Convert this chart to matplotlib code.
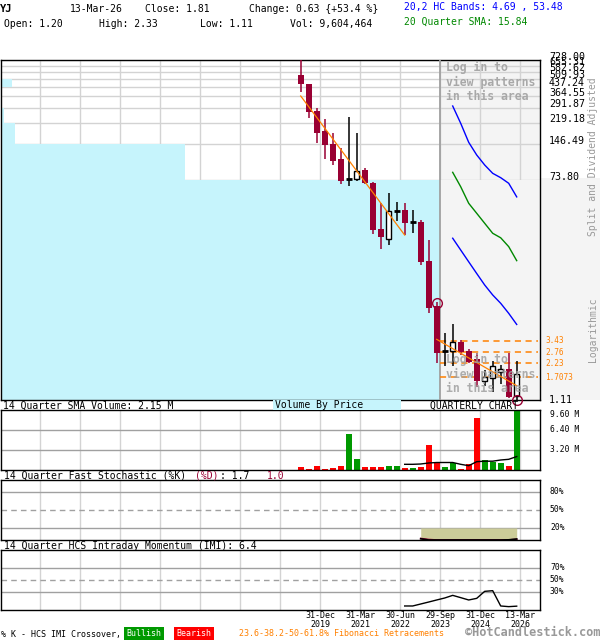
import matplotlib
matplotlib.use('Agg')
import matplotlib.pyplot as plt
import matplotlib.transforms as mtransforms
from matplotlib.patches import Rectangle, Ellipse
from matplotlib.ticker import NullLocator

plt.rcParams['font.family'] = ['DejaVu Sans Mono']

# quarterly OHLC, Q2 2019 .. Q1 2026
opens = [546.8, 460.6, 275.2, 187.9, 146.6, 110.2, 74.8, 74.8, 89.3, 70.1,
         29.0, 23.8, 41.1, 41.6, 32.9, 33.3, 15.7, 6.67, 2.84, 2.84,
         3.34, 2.83, 2.43, 1.60, 1.70, 1.90, 2.00, 1.20]
highs = [728.0, 462.0, 289.7, 236.3, 179.8, 135.1, 246.9, 181.9, 92.2, 71.0,
         47.3, 57.9, 48.8, 47.3, 41.6, 34.4, 23.5, 7.24, 4.01, 4.70,
         3.49, 2.94, 2.70, 1.97, 2.34, 2.16, 2.70, 2.33]
lows = [397.7, 242.1, 150.3, 109.5, 98.2, 68.4, 65.8, 72.8, 68.4, 26.3,
        19.8, 21.5, 33.9, 25.8, 26.7, 14.6, 5.80, 2.26, 2.12, 2.12,
        2.62, 2.25, 1.43, 1.46, 1.30, 1.51, 1.15, 1.11]
closes = [458.0, 271.6, 181.9, 144.7, 106.6, 72.8, 74.8, 87.6, 69.3, 28.4,
          25.0, 40.6, 41.1, 32.7, 32.9, 15.5, 6.38, 2.74, 2.84, 3.34,
          2.77, 2.30, 1.60, 1.71, 2.11, 2.00, 1.18, 1.81]
# volume in millions
volumes = [0.48, 0.16, 0.64, 0.16, 0.32, 0.64, 5.76, 1.76, 0.48, 0.48,
           0.48, 0.64, 0.64, 0.32, 0.32, 0.48, 4.05, 1.17, 0.48, 1.17,
           0.16, 0.91, 8.30, 1.60, 1.33, 1.12, 0.64, 9.604464]
vol_sma_start = 13
vol_sma = [0.91, 0.91, 0.96, 1.12, 1.20, 1.20, 1.20, 0.91, 0.69, 1.33,
           1.41, 1.41, 1.60, 1.71, 2.15]

# HC bands and 20 quarter SMA (last 9 quarters)
band_start = 19
band_upper = [302.7, 217.6, 151.4, 118.9, 98.2, 83.8, 77.1, 69.3, 53.48]
band_sma = [85.4, 64.9, 47.3, 39.1, 32.3, 26.7, 24.5, 20.7, 15.84]
band_lower = [24.3, 19.4, 15.5, 12.4, 9.95, 8.23, 7.02, 5.80, 4.69]

# trend lines (start idx, start price, end idx, end price)
trend1 = (0, 366.3, 13, 25.8)
trend2 = (17, 3.53, 27, 1.458)

fib_levels = [3.43, 2.76, 2.23, 1.7073]
fib_labels = ['3.43', '2.76', '2.23', '1.7073']

# price axis levels, volume by price per band (millions)
price_levels = [728.00, 655.31, 582.62, 509.93, 437.24, 364.55, 291.87,
                219.18, 146.49, 73.80, 1.11]
vbp = [0.12, 0.0, 0.0, 0.9, 0.0, 0.0, 0.22, 1.15, 15.2, 36.2]  # top band first

stoch_start = 15
stoch_k = [2.0, 0.0, 0.0, 0.0, 0.0, 0.0, 0.0, 0.0, 0.0, 0.0, 0.0, 0.3, 1.7]
stoch_d = [2.5, 0.8, 0.0, 0.0, 0.0, 0.0, 0.0, 0.0, 0.0, 0.0, 0.0, 0.1, 1.0]

imi_start = 13
imi = [6.7, 6.7, 10.0, 13.3, 16.7, 20.0, 24.4, 20.6, 16.7, 19.4,
       31.1, 32.2, 6.7, 5.6, 6.4]

date_labels = ['31-Dec\n2019', '31-Mar\n2021', '30-Jun\n2022',
               '29-Sep\n2023', '31-Dec\n2024', '13-Mar\n2026']

RED = '#990033'
CYAN = '#C6F4FC'
GREY_BG = '#F4F4F4'
GRID = '#D3D3D3'
ORANGE = '#FF8000'

W, H = 600, 640
fig = plt.figure(figsize=(6, 6.4), dpi=100)

def fx(x):
    return x / W

def fy(y):
    return 1 - y / H

def idx(px):
    # pixel column -> quarter index (idx 0 sits at 300.7 px, 8 px per quarter)
    return (px - 300.7) / 8

XMIN, XMAX = idx(1), idx(540)
grid_x = [idx(40 * k) for k in range(1, 14)]

def panel(top, bottom):
    ax = fig.add_axes([fx(1), fy(bottom), 539 / W, (bottom - top) / H])
    ax.set_xlim(XMIN, XMAX)
    ax.set_xticks([])
    ax.set_yticks([])
    for s in ax.spines.values():
        s.set_color('black')
        s.set_linewidth(1)
    return ax

# ---------------- main price panel ----------------
ax = panel(60, 400)
ax.set_yscale('log')
ax.set_ylim(1.11, 728)
ax.yaxis.set_minor_locator(NullLocator())
ax.set_yticks([])

ax.axvspan(idx(440), XMAX, color=GREY_BG, zorder=0, lw=0)
for p in price_levels[:-1]:
    ax.axhline(p, color=GRID, lw=1, zorder=1)
for g in grid_x:
    ax.axvline(g, color=GRID, lw=1, zorder=1)

# volume by price
tops = price_levels[:-1]
bottoms = price_levels[1:]
scale = (idx(440) - XMIN) / max(vbp)
ax.barh(bottoms, [v * scale for v in vbp],
        height=[t - b for t, b in zip(tops, bottoms)],
        left=XMIN, align='edge', color=CYAN, lw=0, zorder=2)
ax.add_patch(Rectangle((idx(440), 1.11), XMAX - idx(440), 73.8 - 1.11,
                       color=GREY_BG, lw=0, zorder=2.5))
ax.axvline(idx(440), color='#A0A0A0', lw=1.3, zorder=3)

# bands
bx = list(range(band_start, band_start + len(band_sma)))
ax.plot(bx, band_upper, color='#0000FF', lw=1, zorder=3)
ax.plot(bx, band_lower, color='#0000FF', lw=1, zorder=3)
ax.plot(bx, band_sma, color='#008800', lw=1, zorder=3)

# fibonacci levels
for lv, lb in zip(fib_levels, fib_labels):
    ax.hlines(lv, 17.4, XMAX - 0.2, color=ORANGE, lw=1.1,
              linestyles=(0, (4, 3)), zorder=3)

# trend lines
for t in (trend1, trend2):
    ax.plot([t[0], t[2]], [t[1], t[3]], color=ORANGE, lw=0.9, zorder=6)

# candles
for i in range(len(closes)):
    o, h, l, c = opens[i], highs[i], lows[i], closes[i]
    if c < o:
        ax.vlines(i, l, h, color=RED, lw=1.1, zorder=4)
        ax.bar(i, o - c, bottom=c, width=0.75, color=RED, lw=0, zorder=5)
    elif c > o:
        ax.vlines(i, l, h, color='black', lw=1.1, zorder=4)
        ax.bar(i, c - o, bottom=o, width=0.62, facecolor='white',
               edgecolor='black', lw=1, zorder=5)
    else:
        ax.vlines(i, l, h, color='black', lw=1.1, zorder=4)
        ax.hlines(c, i - 0.4, i + 0.4, color='black', lw=2, zorder=5)

for ci, cp in ((17, 7.02), (27, 1.11)):
    ax.plot(ci, cp, marker='o', ms=7, mfc='none', mec=RED, mew=1,
            zorder=7, clip_on=False)

# price labels on the right
tr = mtransforms.blended_transform_factory(fig.transFigure, ax.transData)
tr_up = mtransforms.offset_copy(tr, fig=fig, y=2.5, units='points')
for p in price_levels:
    ax.text(fx(549), p, f'{p:.2f}', transform=tr_up if p > 2 else tr,
            va='center', ha='left', fontsize=7.2, clip_on=False)
for lv, lb in zip(fib_levels, fib_labels):
    ax.text(fx(545), lv, lb, transform=tr, va='center', ha='left',
            fontsize=5.6, color=ORANGE, clip_on=False)

fig.add_artist(Rectangle((fx(541), fy(400)), 59 / W, 222 / H,
                         transform=fig.transFigure, color=GREY_BG, lw=0,
                         zorder=-1))
fig.text(fx(593), fy(157), 'Split and Dividend Adjusted', rotation=90,
         ha='center', va='center', fontsize=7, color='#999999')
fig.text(fx(593), fy(330), 'Logarithmic', rotation=90,
         ha='center', va='center', fontsize=7, color='#999999')

for k, line in enumerate(['Log in to', 'view patterns', 'in this area']):
    fig.text(fx(446), fy(67 + 15 * k), line, fontsize=8.3, weight='bold',
             color='#A8A8A8', va='center')
    fig.text(fx(446), fy(359 + 15 * k), line, fontsize=8.3, weight='bold',
             color='#A0A0A0', va='center', alpha=0.85, zorder=10)

# ---------------- volume panel ----------------
axv = panel(410, 470)
axv.set_ylim(0, 9.6)
for g in grid_x:
    axv.axvline(g, color=GRID, lw=1, zorder=1)
for v in (3.2, 6.4):
    axv.axhline(v, color='#A0A0A0', lw=1, zorder=1)
vcol = ['#009900' if c >= o else '#FF0000' for o, c in zip(opens, closes)]
axv.bar(range(len(volumes)), volumes, width=0.75, color=vcol, lw=0, zorder=2)
axv.plot(range(vol_sma_start, vol_sma_start + len(vol_sma)), vol_sma,
         color='black', lw=1, zorder=3)
trv = mtransforms.blended_transform_factory(fig.transFigure, axv.transData)
for v in (3.2, 6.4, 9.6):
    axv.text(fx(550), v, f'{v:.2f} M', transform=trv, va='top' if v > 9 else 'center',
             fontsize=5.8, clip_on=False)

fig.add_artist(Rectangle((fx(273), fy(410)), 128 / W, 10 / H,
                         transform=fig.transFigure, color=CYAN, lw=0))
fig.text(fx(3), fy(405.5), '14 Quarter SMA Volume: 2.15 M', fontsize=7, va='center')
fig.text(fx(275), fy(405.5), 'Volume By Price', fontsize=7, va='center')
fig.text(fx(430), fy(405.5), 'QUARTERLY CHART', fontsize=7, va='center')

# ---------------- stochastic panel ----------------
axs = panel(480, 540)
axs.set_ylim(0, 100)
for g in grid_x:
    axs.axvline(g, color=GRID, lw=1, zorder=1)
axs.axhline(80, color='#A0A0A0', lw=1, zorder=1)
axs.axhline(20, color='#A0A0A0', lw=1, zorder=1)
axs.axhline(50, color='#A0A0A0', lw=1, ls=(0, (4, 3)), zorder=1)
sx = list(range(stoch_start, stoch_start + len(stoch_k)))
axs.fill_between(sx, stoch_k, 20, color='#CCCC99', lw=0, zorder=2)
axs.plot(sx, stoch_d, color=RED, lw=1.2, zorder=3)
axs.plot(sx, stoch_k, color='black', lw=1.2, zorder=3)
trs = mtransforms.blended_transform_factory(fig.transFigure, axs.transData)
for v in (80, 50, 20):
    axs.text(fx(550), v, f'{v}%', transform=trs, va='center', fontsize=5.8,
             clip_on=False)

fig.text(fx(4), fy(476), '14 Quarter Fast Stochastic (%K)', fontsize=7, va='center')
fig.text(fx(195), fy(476), '(%D)', fontsize=7, va='center', color=RED)
fig.text(fx(220), fy(476), ': 1.7', fontsize=7, va='center')
fig.text(fx(267), fy(476), '1.0', fontsize=7, va='center', color=RED)

# ---------------- IMI panel ----------------
axi = panel(550, 610)
axi.set_ylim(0, 100)
for g in grid_x:
    axi.axvline(g, color=GRID, lw=1, zorder=1)
axi.axhline(70, color='#A0A0A0', lw=1, zorder=1)
axi.axhline(30, color='#A0A0A0', lw=1, zorder=1)
axi.axhline(50, color='#A0A0A0', lw=1, ls=(0, (4, 3)), zorder=1)
axi.plot(range(imi_start, imi_start + len(imi)), imi, color='black', lw=1, zorder=3)
tri = mtransforms.blended_transform_factory(fig.transFigure, axi.transData)
for v in (70, 50, 30):
    axi.text(fx(550), v, f'{v}%', transform=tri, va='center', fontsize=5.8,
             clip_on=False)
fig.text(fx(4), fy(546), '14 Quarter HCS Intraday Momentum (IMI): 6.4',
         fontsize=7, va='center')

# date labels under the last six grid lines
trd = mtransforms.blended_transform_factory(axi.transData, fig.transFigure)
for g, lb in zip(grid_x[-6:], date_labels):
    axi.text(g, fy(620), lb, transform=trd, ha='center', va='center',
             fontsize=6, linespacing=1.05, clip_on=False)

# ---------------- header ----------------
fig.text(fx(0), fy(9), 'YJ', fontsize=7.5, weight='bold', va='center')
fig.text(fx(70), fy(9), '13-Mar-26', fontsize=7, va='center')
fig.text(fx(145), fy(9), 'Close: 1.81', fontsize=7, va='center')
fig.text(fx(249), fy(9), 'Change: 0.63 {+53.4 %}', fontsize=7, va='center')
fig.text(fx(404), fy(7), '20,2 HC Bands: 4.69 , 53.48', fontsize=7,
         va='center', color='#0000FF')
fig.text(fx(4), fy(24), 'Open: 1.20', fontsize=7, va='center')
fig.text(fx(99), fy(24), 'High: 2.33', fontsize=7, va='center')
fig.text(fx(200), fy(24), 'Low: 1.11', fontsize=7, va='center')
fig.text(fx(290), fy(24), 'Vol: 9,604,464', fontsize=7, va='center')
fig.text(fx(404), fy(22), '20 Quarter SMA: 15.84', fontsize=7,
         va='center', color='#008800')

# ---------------- footer ----------------
fig.text(fx(1), fy(634), '% K - HCS IMI Crossover,', fontsize=6, va='center')
fig.text(fx(144), fy(634), 'Bullish', fontsize=6, va='center', ha='center',
         color='white', bbox=dict(facecolor='#009900', edgecolor='none', pad=1.5))
fig.text(fx(194), fy(634), 'Bearish', fontsize=6, va='center', ha='center',
         color='white', bbox=dict(facecolor='#FF0000', edgecolor='none', pad=1.5))
fig.text(fx(239), fy(634), '23.6-38.2-50-61.8% Fibonacci Retracements',
         fontsize=6, va='center', color=ORANGE)
fig.text(fx(600), fy(633), '\u00a9HotCandlestick.com', fontsize=8.6,
         va='center', ha='right', color='#999999', weight='bold')

fig.savefig('out.png', dpi=100, facecolor='white')
